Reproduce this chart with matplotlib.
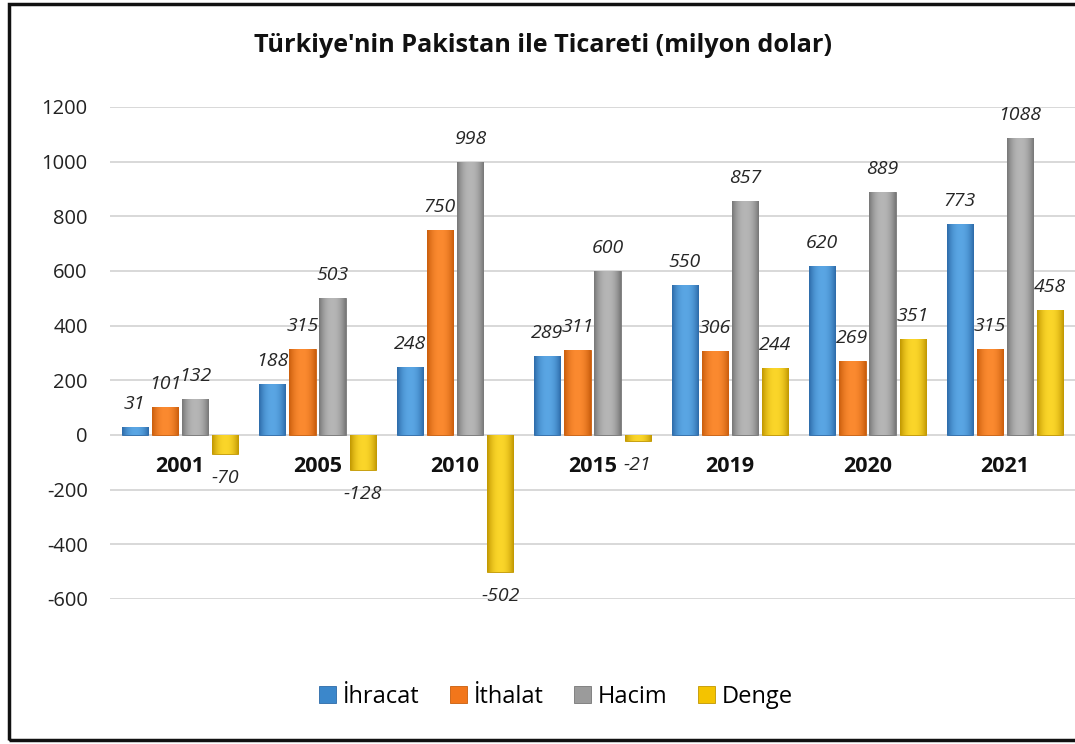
import numpy as np
import matplotlib
matplotlib.use('Agg')
import matplotlib.pyplot as plt
from matplotlib.colors import to_rgb
from matplotlib.patches import Rectangle

years = ['2001', '2005', '2010', '2015', '2019', '2020', '2021']
ihracat = [31, 188, 248, 289, 550, 620, 773]
ithalat = [101, 315, 750, 311, 306, 269, 315]
hacim = [132, 503, 998, 600, 857, 889, 1088]
denge = [-70, -128, -502, -21, 244, 351, 458]
series_names = ['İhracat', 'İthalat', 'Hacim', 'Denge']
y_ticks = [-600, -400, -200, 0, 200, 400, 600, 800, 1000, 1200]
title = "Türkiye'nin Pakistan ile Ticareti (milyon dolar)"

colors = ['#3b87cb', '#f2761b', '#9b9b9b', '#f4c300']
edge_colors = ['#2c6aa8', '#c95d0c', '#767676', '#c09600']
highlights = ['#5aa6e4', '#fb8a30', '#b6b6b6', '#fbd62a']

plt.rcParams['font.family'] = ['Open Sans', 'DejaVu Sans']

fig = plt.figure(figsize=(10.75, 7.44), dpi=100)
ax = fig.add_axes([110 / 1075, 1 - 599 / 744, 965 / 1075, 492 / 744])

x = np.arange(len(years))
width = 0.191
stride = 0.219
series = [ihracat, ithalat, hacim, denge]


def gradient(c_edge, c_mid, n=64):
    t = np.linspace(0, 1, n)
    prof = 1 - np.abs(2 * t - 1) ** 2.2
    e = np.array(to_rgb(c_edge))
    m = np.array(to_rgb(c_mid))
    row = e[None, :] * (1 - prof[:, None]) + m[None, :] * prof[:, None]
    return row[None, :, :]


handles = []
for k, vals in enumerate(series):
    offs = (k - 1.5) * stride
    bars = ax.bar(x + offs, vals, width, color=colors[k], edgecolor=edge_colors[k],
                  linewidth=0.6, zorder=2, label=series_names[k])
    handles.append(bars)
    g = gradient(edge_colors[k], highlights[k])
    for rect, v in zip(bars, vals):
        x0 = rect.get_x(); y0 = rect.get_y(); w = rect.get_width(); h = rect.get_height()
        im = ax.imshow(g, extent=[x0, x0 + w, min(y0, y0 + h), max(y0, y0 + h)],
                       aspect='auto', zorder=2.1, interpolation='bicubic')
        im.set_clip_path(rect)
        ax.annotate(f'{v}', (x0 + w / 2, v), xytext=(0, 23 if v >= 0 else -24),
                    textcoords='offset pixels', ha='center', va='center',
                    style='italic', fontsize=14, color='#262626', annotation_clip=False)

for i, yr in enumerate(years):
    ax.annotate(yr, (i, 0), xytext=(0, -31), textcoords='offset pixels',
                ha='center', va='center', fontweight='bold', fontsize=15.5, color='#111111')

ax.set_xlim(-0.509, len(years) - 0.491)
ax.set_ylim(-600, 1200)
ax.set_yticks(y_ticks)
ax.set_yticklabels([str(t) for t in y_ticks], fontsize=14.5, color='#222222')
ax.set_xticks([])
ax.tick_params(axis='y', length=0, pad=16)
ax.yaxis.grid(True, color='#d6d6d6', linewidth=1.3)
ax.set_axisbelow(True)
for s in ax.spines.values():
    s.set_visible(False)

fig.text(543 / 1075, 1 - 46 / 744, title, ha='center', va='center',
         fontsize=18.2, fontweight='bold', color='#111111')

fig.legend(handles=handles, labels=series_names, loc='center',
           bbox_to_anchor=(556 / 1075, 1 - 697 / 744), ncol=4, frameon=False,
           fontsize=17, handlelength=0.7, handleheight=0.7, handletextpad=0.3,
           columnspacing=1.3)

fig.add_artist(Rectangle((9 / 1075, 4 / 744), 1.0, 736 / 744, transform=fig.transFigure,
                         facecolor='none', edgecolor='#111111', linewidth=2.5))

fig.savefig('out.png', dpi=100)
